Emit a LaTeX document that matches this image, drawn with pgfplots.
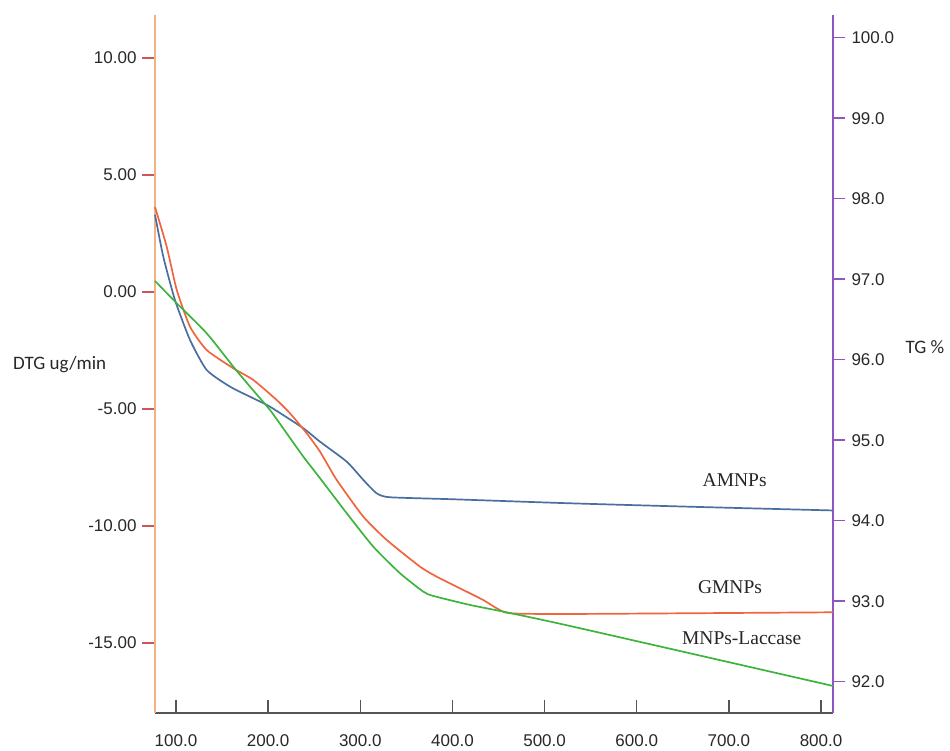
\documentclass[border=0pt]{standalone}
\usepackage{pgfplots}
\pgfplotsset{compat=1.18}
\usepackage{fontspec}
\setmainfont{Liberation Sans}
\newfontfamily\serifl{Liberation Serif}
\newfontfamily\calib{Carlito}
\definecolor{axorange}{RGB}{244,177,131}
\definecolor{tickred}{RGB}{205,85,90}
\definecolor{axpurple}{RGB}{145,85,195}
\definecolor{axgray}{RGB}{85,85,85}
\definecolor{txt}{RGB}{40,40,40}
\definecolor{cblue}{RGB}{74,110,160}
\definecolor{corange}{RGB}{240,100,62}
\definecolor{cgreen}{RGB}{62,180,62}
\begin{document}
\begin{tikzpicture}[x=1pt,y=1pt]
\useasboundingbox (0,0) rectangle (950,751);
% left (DTG) axis
\begin{axis}[
  at={(155pt,38pt)}, anchor=south west,
  scale only axis, width=678pt, height=698pt,
  xmin=77.2, xmax=813, ymin=-17.99, ymax=11.84,
  axis x line*=bottom, axis y line*=left,
  x axis line style={draw=axgray, line width=1.6pt, -},
  y axis line style={draw=axorange, line width=1.6pt, -},
  xtick={100,200,300,400,500,600,700,800},
  xticklabels={100.0,200.0,300.0,400.0,500.0,600.0,700.0,800.0},
  ytick={-15,-10,-5,0,5,10},
  yticklabels={-15.00,-10.00,-5.00,0.00,5.00,10.00},
  xtick align=inside, ytick align=outside,
  major tick length=13pt,
  x tick style={draw=axgray, line width=1.4pt},
  y tick style={draw=tickred, line width=1.4pt},
  minor tick num=0,
  tick label style={font=\fontsize{17}{20}\selectfont, text=txt},
  xticklabel style={yshift=-18pt},
  yticklabel style={xshift=-2pt},
]
\end{axis}
% right (TG) axis with curves
\begin{axis}[
  at={(155pt,38pt)}, anchor=south west,
  scale only axis, width=678pt, height=698pt,
  xmin=77.2, xmax=813, ymin=91.611, ymax=100.282,
  axis x line=none, axis y line*=right,
  y axis line style={draw=axpurple, line width=1.6pt, -},
  ytick={92,93,94,95,96,97,98,99,100},
  yticklabels={92.0,93.0,94.0,95.0,96.0,97.0,98.0,99.0,100.0},
  ytick align=outside, major tick length=12pt,
  y tick style={draw=axpurple, line width=1.4pt},
  tick label style={font=\fontsize{17}{20}\selectfont, text=txt},
  yticklabel style={xshift=3pt},
  clip=false,
]
% AMNPs
\addplot[cblue, line width=1.7pt, line join=round, smooth, tension=0.35] coordinates {
(77.2,97.80) (86.2,97.28) (98.9,96.74) (115.2,96.245) (133.3,95.872)
(158.6,95.665) (183.9,95.520) (202.0,95.416) (238.2,95.148) (256.3,94.981)
(285.3,94.733) (303.3,94.506) (317.8,94.340) (332.3,94.291) (400.9,94.266)
(527.6,94.216) (668.7,94.17) (813,94.127)};
% GMNPs
\addplot[corange, line width=1.7pt, line join=round, smooth, tension=0.35] coordinates {
(77.2,97.897) (89.9,97.404) (100.8,96.866) (115.2,96.410) (133.3,96.120)
(162.2,95.893) (183.9,95.748) (209.3,95.499) (223.7,95.334) (241.8,95.086)
(256.3,94.857) (274.4,94.506) (303.3,94.050) (328.7,93.760) (364.8,93.429)
(383.0,93.304) (411.8,93.139) (433.5,93.014) (448.1,92.912) (462.5,92.850)
(527.6,92.841) (813,92.862)};
% MNPs-Laccase
\addplot[cgreen, line width=1.7pt, line join=round, smooth, tension=0.35] coordinates {
(77.2,96.978) (100.8,96.701) (133.3,96.328) (162.2,95.913) (180.3,95.665)
(202.0,95.375) (220.1,95.086) (238.2,94.795) (256.3,94.527) (285.3,94.092)
(314.1,93.677) (343.1,93.347) (368.4,93.118) (379.2,93.065) (419.1,92.953)
(455.2,92.870) (527.6,92.692) (813,91.947)};
\node[font=\serifl\fontsize{19.5}{22}\selectfont, text=black!85] at (axis cs:706.3,94.505) {AMNPs};
\node[font=\serifl\fontsize{19.5}{22}\selectfont, text=black!85] at (axis cs:701.2,93.176) {GMNPs};
\node[font=\serifl\fontsize{19.5}{22}\selectfont, text=black!85] at (axis cs:713.9,92.543) {MNPs-Laccase};
\end{axis}
\node[anchor=west, font=\calib\fontsize{19}{22}\selectfont, text=txt, inner sep=0pt] at (13,386) {DTG ug/min};
\node[font=\calib\fontsize{19}{22}\selectfont, text=txt] at (925,404) {TG \%};
\end{tikzpicture}
\end{document}
